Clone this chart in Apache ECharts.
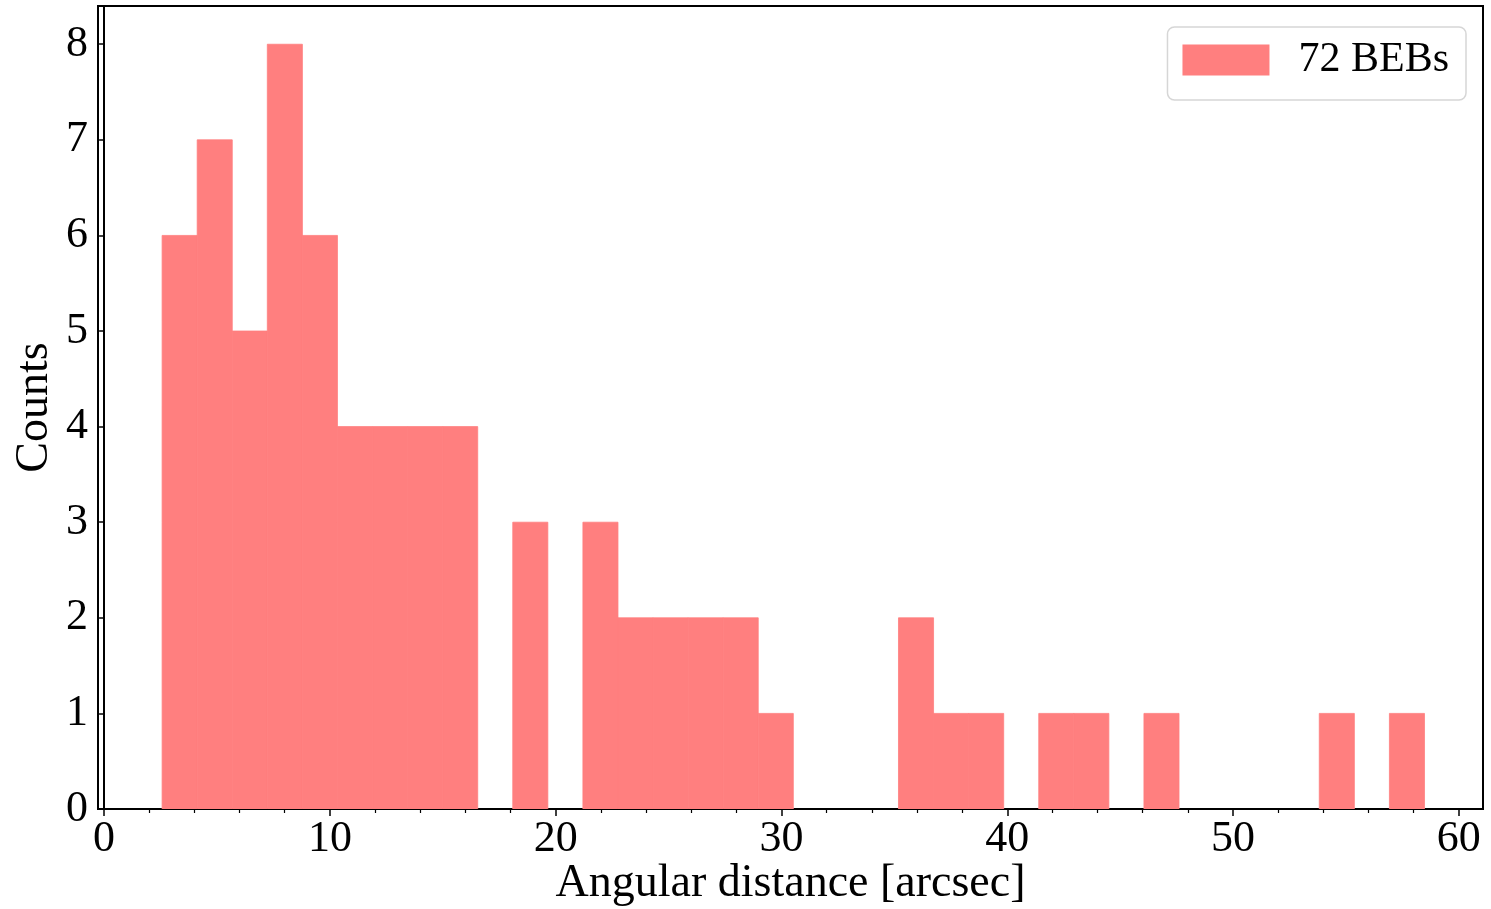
<!DOCTYPE html>
<html>
<head>
<meta charset="utf-8">
<title>Angular distance histogram</title>
<script src="https://cdn.jsdelivr.net/npm/echarts@6/dist/echarts.min.js"></script>
<style>
  html, body { margin: 0; padding: 0; background: #fff; }
  #chart { width: 1491px; height: 909px; }
</style>
</head>
<body>
<div id="chart"></div>
<script>
// Histogram of angular distances: 36 equal-width bins
const binStart = 2.57;      // left edge of the first bin [arcsec]
const binWidth = 1.553;     // bin width [arcsec]
const counts = [
  6, 7, 5, 8, 6, 4, 4, 4, 4, 0,
  3, 0, 3, 2, 2, 2, 2, 1, 0, 0,
  0, 2, 1, 1, 0, 1, 1, 0, 1, 0,
  0, 0, 0, 1, 0, 1
];
const xMajorTicks = [0, 10, 20, 30, 40, 50, 60];
const xMinorTicks = [2, 4, 6, 8, 12, 14, 16, 18, 22, 24, 26, 28, 32, 34, 36, 38,
                     42, 44, 46, 48, 52, 54, 56, 58];
const yTicks = [0, 1, 2, 3, 4, 5, 6, 7, 8];
const seriesName = '72 BEBs';
const xTitle = 'Angular distance [arcsec]';
const yTitle = 'Counts';

const barColor = '#ff7f7f';
const fontFamily = "'Liberation Serif', 'DejaVu Serif', serif";

const bins = counts.map((c, i) => [binStart + i * binWidth, binStart + (i + 1) * binWidth, c]);

const chart = echarts.init(document.getElementById('chart'), null, { renderer: 'canvas' });

const xRange = { min: -0.27, max: 61.07 };
const grid = {
  left: 98, right: 8, top: 6, bottom: 100,
  outerBoundsMode: 'none',
  containLabel: false,
  show: true, borderColor: '#000', borderWidth: 2, backgroundColor: 'transparent'
};

chart.setOption({
  animation: false,
  backgroundColor: '#fff',
  grid: grid,
  legend: {
    right: 25,
    top: 27,
    padding: [12, 17, 19, 15],
    backgroundColor: '#fff',
    borderColor: '#d6d6d6',
    borderWidth: 1.5,
    borderRadius: 7,
    icon: 'rect',
    itemWidth: 87,
    itemHeight: 31,
    textStyle: { fontFamily: fontFamily, fontSize: 42, color: '#000', lineHeight: 31, padding: [6, 0, 0, 24] },
    data: [seriesName]
  },
  xAxis: [{
    type: 'value',
    min: xRange.min,
    max: xRange.max,
    splitLine: { show: false },
    axisLine: { show: true, onZero: false, lineStyle: { color: '#000', width: 2 } },
    axisTick: { show: true, inside: false, length: 7, lineStyle: { color: '#000', width: 1.5 }, customValues: xMajorTicks },
    axisLabel: { customValues: xMajorTicks, margin: 8, fontFamily: fontFamily, fontSize: 44, color: '#000', showMinLabel: true, showMaxLabel: true },
    name: xTitle,
    nameLocation: 'middle',
    nameGap: 52,
    nameMoveOverlap: false,
    nameTextStyle: { fontFamily: fontFamily, fontSize: 46, color: '#000' }
  }, {
    // minor ticks along the bottom axis
    type: 'value',
    position: 'bottom',
    min: xRange.min,
    max: xRange.max,
    splitLine: { show: false },
    axisLine: { show: false },
    axisTick: { show: true, inside: false, length: 4, lineStyle: { color: '#000', width: 1.2 }, customValues: xMinorTicks },
    axisLabel: { show: false }
  }],
  yAxis: {
    type: 'value',
    min: 0,
    max: 8.4,
    splitLine: { show: false },
    axisLine: { show: true, lineStyle: { color: '#000', width: 2 } },
    axisTick: { show: true, inside: false, length: 5, lineStyle: { color: '#000', width: 1.5 }, customValues: yTicks },
    axisLabel: { customValues: yTicks, margin: 10, fontFamily: fontFamily, fontSize: 44, color: '#000' },
    name: yTitle,
    nameLocation: 'middle',
    nameGap: 40,
    nameMoveOverlap: false,
    nameTextStyle: { fontFamily: fontFamily, fontSize: 46, color: '#000' }
  },
  series: [{
    name: seriesName,
    type: 'custom',
    xAxisIndex: 0,
    yAxisIndex: 0,
    clip: true,
    itemStyle: { color: barColor },
    encode: { x: [0, 1], y: 2 },
    data: bins,
    renderItem: function (params, api) {
      const c = api.value(2);
      if (!c) return null;
      const topLeft = api.coord([api.value(0), c]);
      const bottomRight = api.coord([api.value(1), 0]);
      return {
        type: 'rect',
        shape: {
          x: topLeft[0],
          y: topLeft[1],
          width: bottomRight[0] - topLeft[0],
          height: bottomRight[1] - topLeft[1]
        },
        // a hairline outline in the fill colour closes the seams between adjacent bins
        style: { fill: barColor, stroke: barColor, lineWidth: 0.8 }
      };
    }
  }]
});
</script>
</body>
</html>
